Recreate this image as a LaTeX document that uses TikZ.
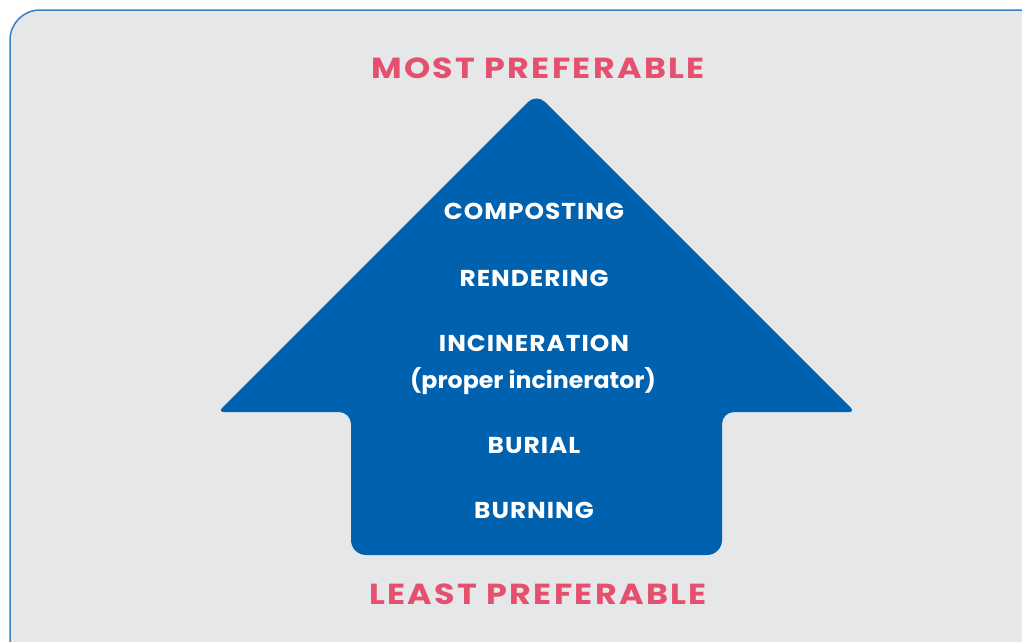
\documentclass[tikz,border=0pt]{standalone}
\usepackage{fontspec}
\setmainfont{Poppins}
\usepackage{tikz}
\usetikzlibrary{positioning}

\definecolor{panelgray}{HTML}{E6E7E9}
\definecolor{panelline}{HTML}{3A80C9}
\definecolor{arrowblue}{HTML}{0061AE}
\definecolor{prefpink}{HTML}{E5506F}

\newcommand{\wideprint}[2]{\scalebox{#1}[1]{#2}}

\tikzset{
    preflabel/.style={text=prefpink, font=\fontsize{29}{31}\selectfont\bfseries\addfontfeature{LetterSpace=7}, inner sep=0pt},
    methodlabel/.style={text=white, font=\fontsize{23}{25}\selectfont\bfseries\addfontfeature{LetterSpace=4}, inner sep=0pt},
    notelabel/.style={text=white, font=\fontsize{23}{25}\selectfont\bfseries, inner sep=0pt}
}

\begin{document}
\begin{tikzpicture}[x=1pt, y=-1pt]
            \useasboundingbox (0,0) rectangle (1022,641);

            % Sfondo
            \draw[panelline, line width=1.5pt, fill=panelgray, rounded corners=30pt] (10,10) rectangle (1050,670);

            % Freccia
            \fill[arrowblue, rounded corners=12pt]
                (377.25,252.75) -- (536.5,93.5)
                [rounded corners=6pt] -- (855,412)
                [rounded corners=12pt] -- (722,412)
                [rounded corners=15pt] -- (722,555) -- (351,555)
                [rounded corners=12pt] -- (351,412)
                [rounded corners=6pt] -- (218,412) -- cycle;

            % Etichette
            \node[preflabel] (most) at (538,68) {\wideprint{1.15}{MOST PREFERABLE}};
            \node[preflabel] (least) at (538,594) {\wideprint{1.15}{LEAST PREFERABLE}};

            \node[methodlabel] (composting) at (534,211) {\wideprint{1.08}{COMPOSTING}};
            \node[methodlabel] (rendering) at (534,278) {\wideprint{1.08}{RENDERING}};
            \node[methodlabel] (incineration) at (534,343) {\wideprint{1.08}{INCINERATION}};
            \node[notelabel] (proper) at (533,381) {\wideprint{1.03}{(proper incinerator)}};
            \node[methodlabel] (burial) at (534,445) {\wideprint{1.08}{BURIAL}};
            \node[methodlabel] (burning) at (534,510) {\wideprint{1.08}{BURNING}};
        \end{tikzpicture}
\end{document}
